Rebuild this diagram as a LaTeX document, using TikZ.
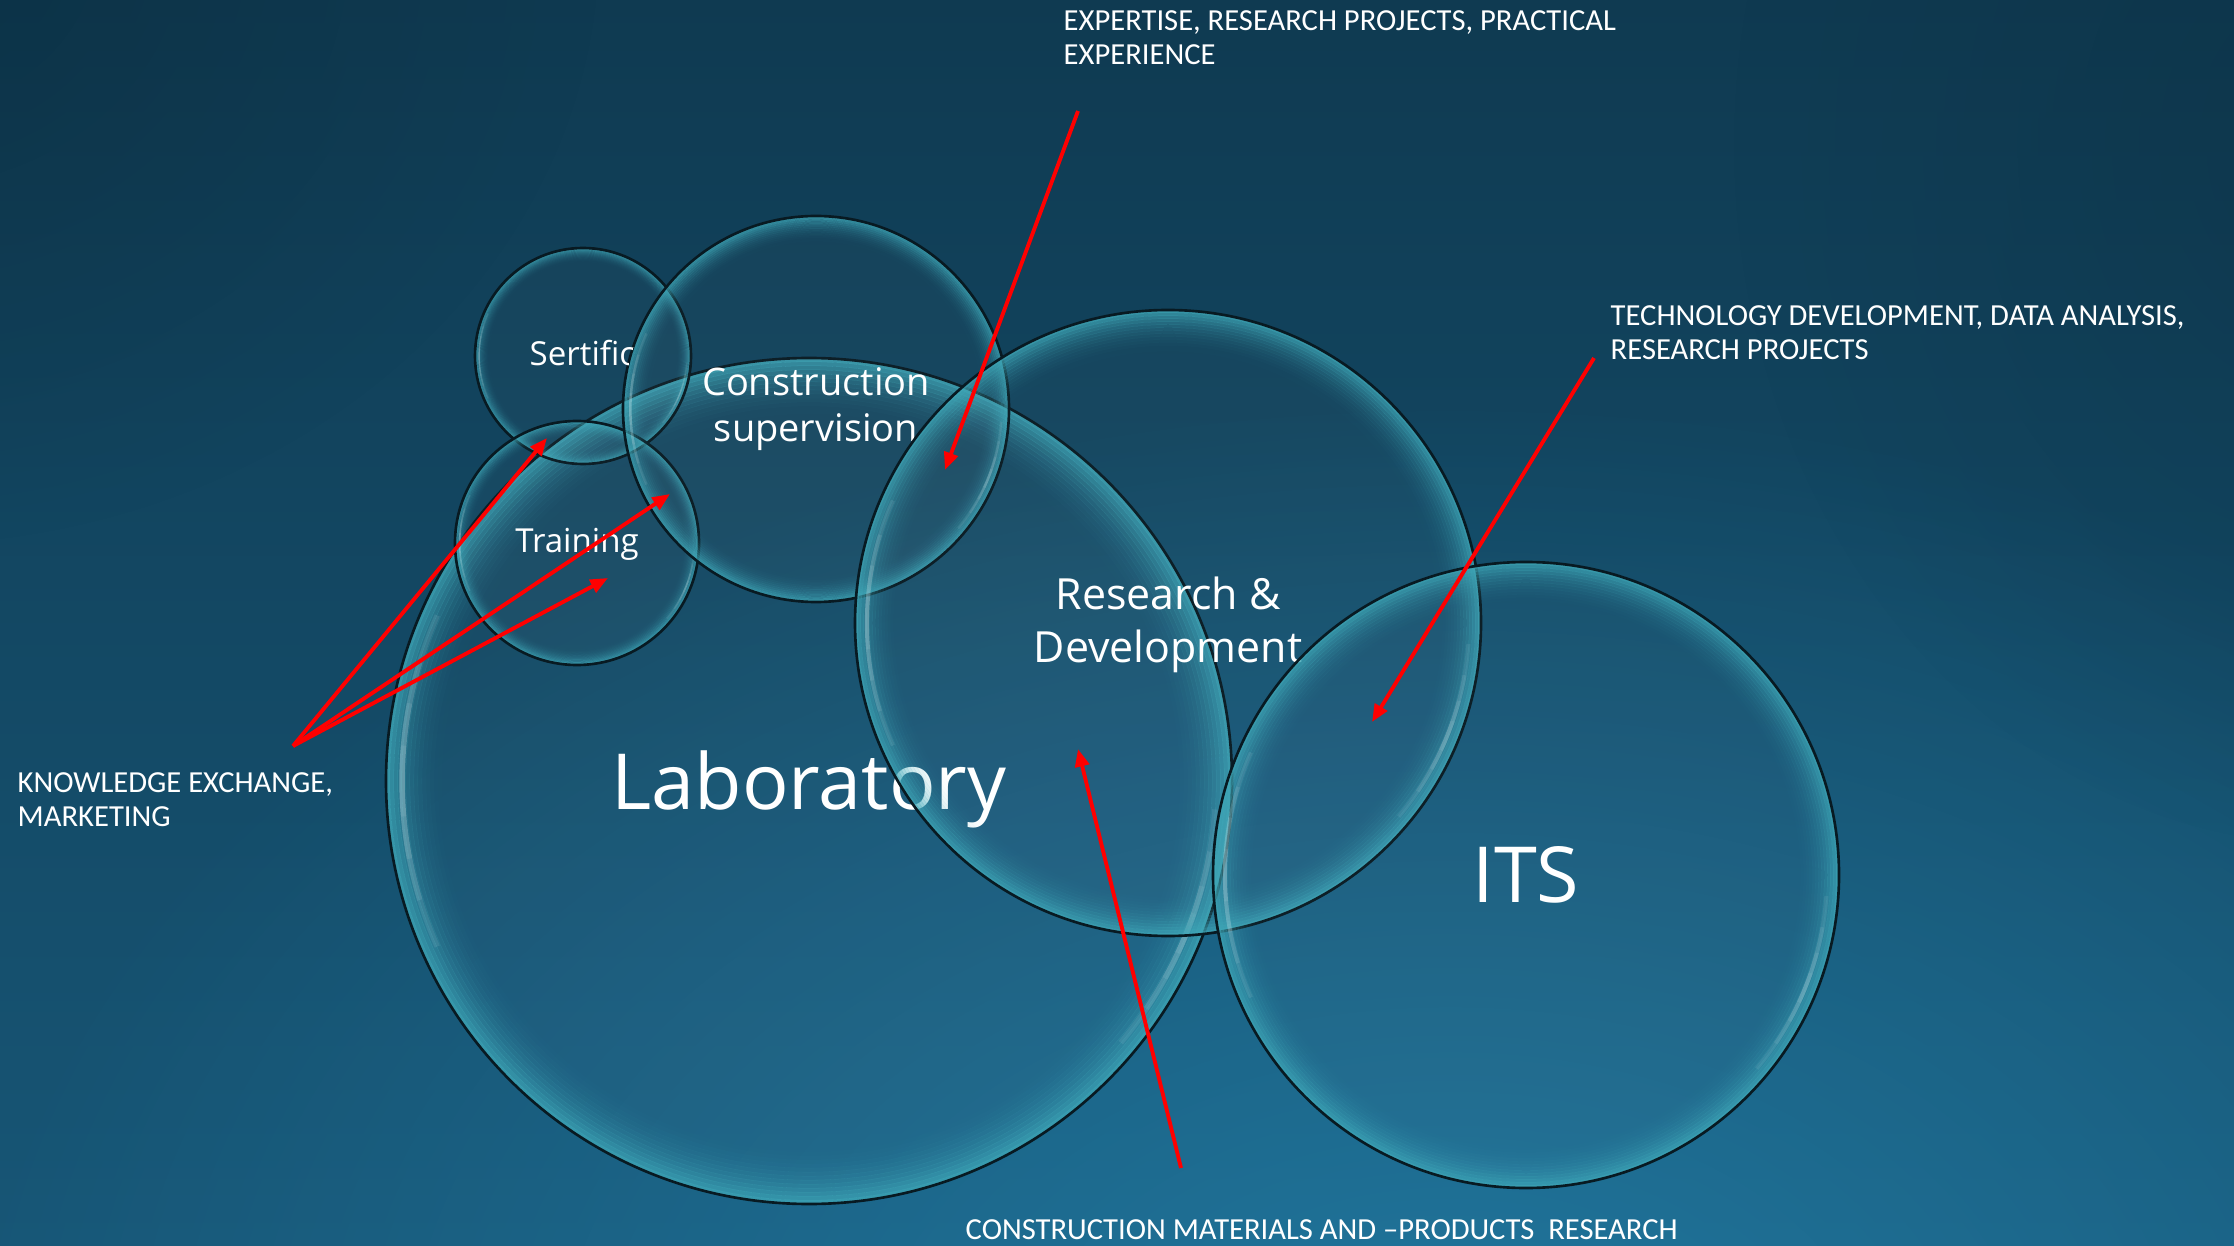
\documentclass[tikz,border=0pt]{standalone}
\usepackage{fontspec}
\setmainfont{Carlito}
\newfontfamily\bubfont{Open Sans}
\usetikzlibrary{fadings,arrows.meta}

\definecolor{bgtop}{HTML}{0F3A51}
\definecolor{bgbot}{HTML}{175676}
\definecolor{bgglow}{HTML}{2584AE}
\definecolor{bgdark}{HTML}{0A2C3E}
\definecolor{rimcyan}{HTML}{3EA8B8}
\definecolor{hlcolor}{HTML}{D8EEF2}
\definecolor{edgedark}{HTML}{081A22}
\definecolor{arrowred}{HTML}{FF0000}

\tikzfading[name=glowfade, inner color=transparent!30, outer color=transparent!100]

\newcommand\mybubble[2]{%
  \fill[white, opacity=0.025] (#1) circle[radius=#2];
  \foreach \k in {0,...,15} {%
    \pgfmathsetmacro\rr{#2*(0.996-0.0095*\k)}%
    \pgfmathsetmacro\op{0.78*(1-\k/16)^2.6}%
    \draw[rimcyan, opacity=\op, line width={0.0102*#2*0.2845pt}] (#1) circle[radius=\rr];
  }
  \foreach \s in {24,17,11,5} {%
    \draw[hlcolor, opacity=0.1, line width={0.013*#2*0.2845pt}] ([shift={(180-\s:{0.962*#2})}]#1) arc[start angle=180-\s, end angle=180+\s, radius={0.962*#2}];
  }
  \foreach \s in {18,12,7,3} {%
    \draw[hlcolor, opacity=0.09, line width={0.013*#2*0.2845pt}] ([shift={(-22-\s:{0.962*#2})}]#1) arc[start angle=-22-\s, end angle=-22+\s, radius={0.962*#2}];
  }
  \draw[edgedark, line width=0.75pt] (#1) circle[radius=#2];
}

\tikzset{
  bubtext/.style={text=white, inner sep=0pt},
  lbl/.style={text=white, inner sep=0pt, align=left, font=\fontsize{8.7}{9.7}\selectfont},
  redarrow/.style={draw=arrowred, line width=1.1pt, -{Triangle[length=5pt,width=4pt]}},
}

\begin{document}
\begin{tikzpicture}[x=0.01cm, y=0.01cm]
\useasboundingbox (0,0) rectangle (2234,1245);
% background
\shade[top color=bgtop, bottom color=bgbot] (0,0) rectangle (2234,1245);
\begin{scope}
\clip (0,0) rectangle (2234,1245);
\fill[bgglow, path fading=glowfade] (1450,-150) ellipse[x radius=1500, y radius=1000];
\fill[bgdark, path fading=glowfade, opacity=0.8] (-100,1300) ellipse[x radius=700, y radius=600];
\fill[bgdark, path fading=glowfade, opacity=0.5] (2334,1100) ellipse[x radius=600, y radius=700];
\end{scope}

% centers
\coordinate (lab) at (809,464);
\coordinate (sert) at (583,889);
\coordinate (train) at (577,702);
\coordinate (cons) at (816,836);
\coordinate (rd) at (1168,622);
\coordinate (its) at (1526,370);

\mybubble{lab}{423}
\mybubble{sert}{108}
\mybubble{train}{122}
\mybubble{cons}{193}

\begin{scope}
\clip ([shift={(215:193)}]cons) arc[start angle=215, end angle=145, radius=193] -| (350,700) -- cycle;
\node[bubtext, anchor=base west, font=\bubfont\fontsize{9.4}{11}\selectfont] (sertt) at (529,879) {Sertification};
\end{scope}
\node[bubtext, anchor=base, font=\bubfont\fontsize{9.4}{11}\selectfont] (traint) at (577,692) {Training};
\node[bubtext, align=center, font=\bubfont\fontsize{10.8}{13.1}\selectfont] (const) at (816,836) {Construction\\supervision};
\node[bubtext, anchor=base, font=\bubfont\fontsize{22}{26}\selectfont] (labt) at (809,436) {Laboratory};

\mybubble{rd}{313}
\node[bubtext, align=center, font=\bubfont\fontsize{12.2}{15.1}\selectfont] (rdt) at (1168,620) {Research \&\\Development};

\mybubble{its}{313}
\node[bubtext, anchor=base, font=\bubfont\fontsize{22}{26}\selectfont] (itst) at (1526,343) {ITS};

% labels
\node[lbl, anchor=north west] (expl) at (1063,1235) {EXPERTISE, RESEARCH PROJECTS, PRACTICAL\\EXPERIENCE};
\node[lbl, anchor=north west] (techl) at (1610,940) {TECHNOLOGY DEVELOPMENT, DATA ANALYSIS,\\RESEARCH PROJECTS};
\node[lbl, anchor=north west] (knowl) at (17,473) {KNOWLEDGE EXCHANGE,\\MARKETING};
\node[lbl, anchor=base west] (matl) at (965,6) {CONSTRUCTION MATERIALS AND –PRODUCTS\ \ RESEARCH};

% arrow coordinates
\coordinate (kstart) at (293,499);
\coordinate (k1) at (547,807);
\coordinate (k2) at (670,751);
\coordinate (k3) at (608,667);
\coordinate (estart) at (1078,1134);
\coordinate (eend) at (945,775);
\coordinate (tstart) at (1594,887);
\coordinate (tend) at (1372,523);
\coordinate (mstart) at (1181,77);
\coordinate (mend) at (1078,496);

\draw[redarrow] (kstart) -- (k1);
\draw[redarrow] (kstart) -- (k2);
\draw[redarrow] (kstart) -- (k3);
\draw[redarrow] (estart) -- (eend);
\draw[redarrow] (tstart) -- (tend);
\draw[redarrow] (mstart) -- (mend);
\end{tikzpicture}
\end{document}
